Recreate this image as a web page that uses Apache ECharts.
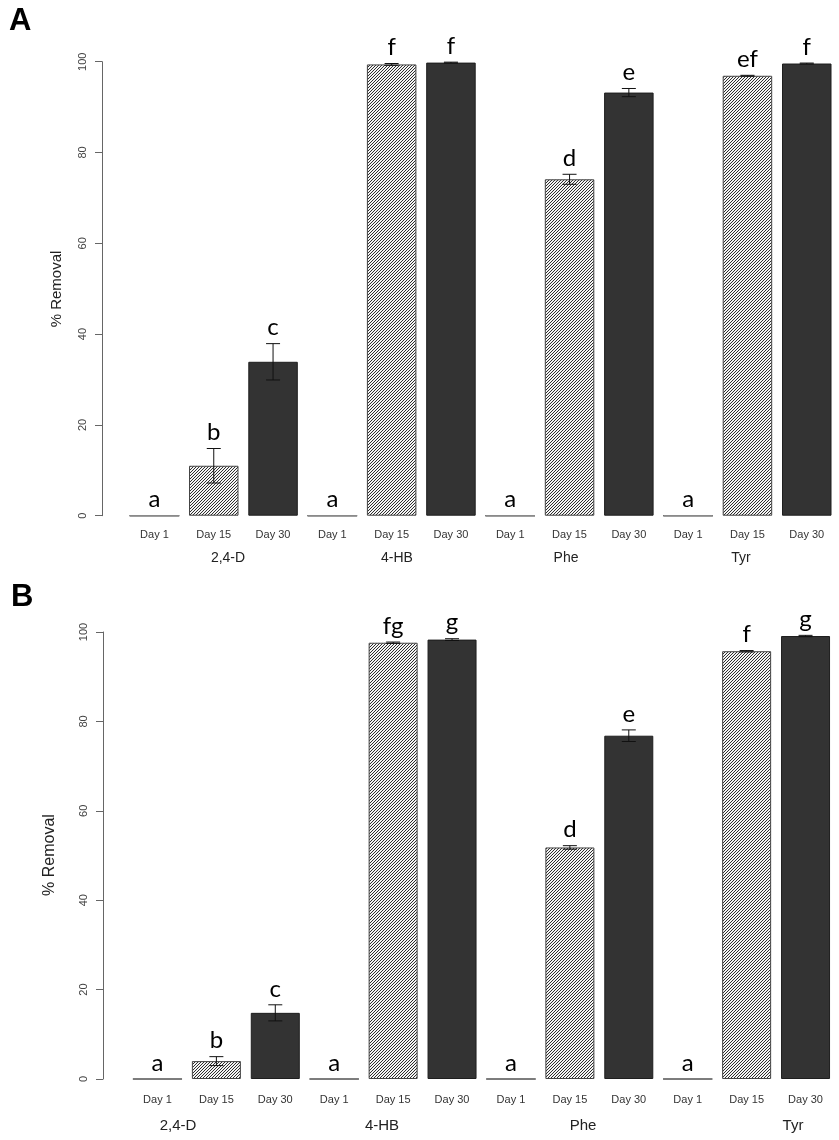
<!DOCTYPE html>
<html>
<head>
<meta charset="utf-8">
<title>% Removal</title>
<script src="https://cdn.jsdelivr.net/npm/echarts@6.0.0/dist/echarts.min.js"></script>
<style>
  html, body { margin: 0; padding: 0; background: #fff; }
  #chart { width: 839px; height: 1140px; }
</style>
</head>
<body>
<div id="chart"></div>
<script>
// categories
var days = ['Day 1', 'Day 15', 'Day 30', 'Day 1', 'Day 15', 'Day 30',
            'Day 1', 'Day 15', 'Day 30', 'Day 1', 'Day 15', 'Day 30'];
var compounds = ['2,4-D', '4-HB', 'Phe', 'Tyr'];
var yTicks = [0, 20, 40, 60, 80, 100];

// panel A
var meanA = [0, 11.0, 33.9, 0, 99.4, 99.8, 0, 74.1, 93.2, 0, 96.9, 99.6];
var errA = [0, 3.8, 4.0, 0, 0.2, 0.1, 0, 1.1, 0.9, 0, 0.1, 0.1];
var lettersA = ['a', 'b', 'c', 'a', 'f', 'f', 'a', 'd', 'e', 'a', 'ef', 'f'];

// panel B
var meanB = [0, 4.0, 14.8, 0, 97.6, 98.3, 0, 51.8, 76.8, 0, 95.7, 99.1];
var errB = [0, 1.0, 1.8, 0, 0.15, 0.2, 0, 0.4, 1.3, 0, 0.15, 0.15];
var lettersB = ['a', 'b', 'c', 'a', 'fg', 'g', 'a', 'd', 'e', 'a', 'f', 'g'];

var font = '"Liberation Sans", Arial, sans-serif';
var letterFont = 'Lato, "Open Sans", sans-serif';

// hatch pattern for the Day 15 bars
function makeHatch() {
  var n = 3;
  var c = document.createElement('canvas');
  c.width = n; c.height = n;
  var ctx = c.getContext('2d');
  ctx.fillStyle = '#f4f4f4';
  ctx.fillRect(0, 0, n, n);
  ctx.strokeStyle = '#2e2e2e';
  ctx.lineWidth = 1;
  ctx.beginPath();
  ctx.moveTo(0, n); ctx.lineTo(n, 0);
  ctx.moveTo(-1, 1); ctx.lineTo(1, -1);
  ctx.moveTo(n - 1, n + 1); ctx.lineTo(n + 1, n - 1);
  ctx.stroke();
  return c;
}
var hatch = { image: makeHatch(), repeat: 'repeat' };

function barData(means) {
  return means.map(function (v, i) {
    var d = days[i];
    if (d === 'Day 15') {
      return { value: v, itemStyle: { color: hatch, borderColor: '#444', borderWidth: 1 } };
    }
    return { value: v, itemStyle: { color: '#333333', borderColor: '#1e1e1e', borderWidth: 1 } };
  });
}

function errRender(means, errs, letters) {
  return function (params, api) {
    var i = params.dataIndex;
    var x = api.value(0);
    var v = means[i], e = errs[i];
    var bw = api.size([1, 0])[0] * 0.835;
    var base = api.coord([x, 0]);
    var children = [];
    var labelY;
    if (v === 0) {
      children.push({
        type: 'line',
        shape: { x1: base[0] - bw / 2, y1: base[1], x2: base[0] + bw / 2, y2: base[1] },
        style: { stroke: '#8a8a8a', lineWidth: 1.5 }
      });
      labelY = base[1] - 4;
    } else {
      var top = api.coord([x, v + e]);
      var bot = api.coord([x, v - e]);
      var cap = 7;
      var st = { stroke: '#111', lineWidth: 1 };
      children.push({ type: 'line', shape: { x1: top[0], y1: top[1], x2: bot[0], y2: bot[1] }, style: st });
      children.push({ type: 'line', shape: { x1: top[0] - cap, y1: top[1], x2: top[0] + cap, y2: top[1] }, style: st });
      children.push({ type: 'line', shape: { x1: bot[0] - cap, y1: bot[1], x2: bot[0] + cap, y2: bot[1] }, style: st });
      labelY = top[1] - 4;
    }
    children.push({
      type: 'text',
      style: {
        text: letters[i], x: base[0], y: labelY,
        textAlign: 'center', textVerticalAlign: 'bottom',
        font: '24px ' + letterFont, fill: '#000'
      }
    });
    return { type: 'group', children: children };
  };
}

function yAxisOpt(grid, offset) {
  return {
    type: 'value', gridIndex: grid, min: 0, max: 100, interval: 20, offset: offset,
    splitLine: { show: false },
    axisLine: { show: true, lineStyle: { color: '#666', width: 1 } },
    axisTick: { show: true, length: 7, lineStyle: { color: '#666' } },
    axisLabel: {
      rotate: 90, margin: 14, color: '#444', fontSize: 11, fontFamily: font,
      formatter: function (v) { return yTicks.indexOf(v) >= 0 ? String(v) : ''; }
    }
  };
}

function xAxisOpt(grid, margin) {
  return {
    type: 'category', gridIndex: grid, data: days,
    axisLine: { show: false }, axisTick: { show: false },
    axisLabel: { interval: 0, margin: margin, color: '#333', fontSize: 11, fontFamily: font }
  };
}

var groupXA = [228, 397, 566, 741];
var groupXB = [178, 382, 583, 793];

var graphics = [
  { type: 'text', left: 9, top: 6, style: { text: 'A', font: 'bold 31px ' + font, fill: '#000' } },
  { type: 'text', left: 11, top: 582, style: { text: 'B', font: 'bold 31px ' + font, fill: '#000' } },
  { type: 'text', x: 57, y: 289, rotation: Math.PI / 2,
    style: { text: '% Removal', font: '15px ' + font, fill: '#222', textAlign: 'center', textVerticalAlign: 'middle' } },
  { type: 'text', x: 50, y: 855, rotation: Math.PI / 2,
    style: { text: '% Removal', font: '16px ' + font, fill: '#222', textAlign: 'center', textVerticalAlign: 'middle' } }
];
compounds.forEach(function (c, k) {
  graphics.push({ type: 'text', x: groupXA[k], y: 558,
    style: { text: c, font: '14px ' + font, fill: '#222', textAlign: 'center', textVerticalAlign: 'middle' } });
  graphics.push({ type: 'text', x: groupXB[k], y: 1126,
    style: { text: c, font: '15px ' + font, fill: '#222', textAlign: 'center', textVerticalAlign: 'middle' } });
});

var idx = days.map(function (d, i) { return [i]; });

var chart = echarts.init(document.getElementById('chart'), null, { renderer: 'canvas' });
chart.setOption({
  animation: false,
  backgroundColor: '#fff',
  grid: [
    { left: 124.8, width: 711.6, top: 61.7, height: 454 },
    { left: 128, width: 707, top: 632, height: 447 }
  ],
  xAxis: [xAxisOpt(0, 14), xAxisOpt(1, 15)],
  yAxis: [yAxisOpt(0, 22.8), yAxisOpt(1, 25)],
  graphic: graphics,
  series: [
    { type: 'bar', xAxisIndex: 0, yAxisIndex: 0, barWidth: 49.5, data: barData(meanA) },
    { type: 'bar', xAxisIndex: 1, yAxisIndex: 1, barWidth: 49, data: barData(meanB) },
    { type: 'custom', xAxisIndex: 0, yAxisIndex: 0, data: idx, clip: false, z: 5,
      renderItem: errRender(meanA, errA, lettersA) },
    { type: 'custom', xAxisIndex: 1, yAxisIndex: 1, data: idx, clip: false, z: 5,
      renderItem: errRender(meanB, errB, lettersB) }
  ]
});
</script>
</body>
</html>
